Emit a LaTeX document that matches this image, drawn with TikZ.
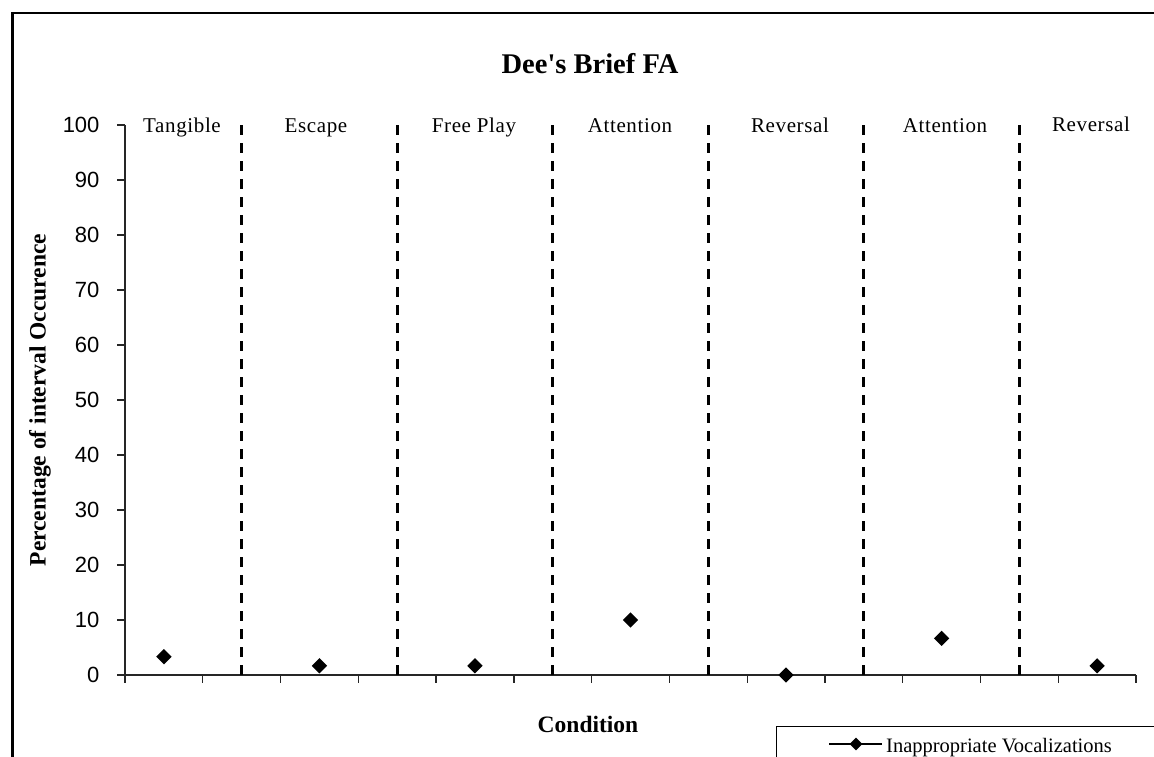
\documentclass[tikz,border=0pt]{standalone}
\usepackage{fontspec}
\setmainfont{Liberation Serif}
\newfontfamily\arialf{Liberation Sans}
\usetikzlibrary{shapes.geometric}
\tikzset{
  axisline/.style={line width=1.3pt, black!85},
  phaseline/.style={line width=3pt, dash pattern=on 10pt off 8pt},
  datapt/.style={diamond, fill=black, inner sep=0pt, minimum width=15.5pt, minimum height=15.5pt},
  ylab/.style={anchor=east, font=\arialf\fontsize{22}{24}\selectfont},
  catlab/.style={anchor=base, font=\addfontfeature{LetterSpace=3}\fontsize{21}{24}\selectfont},
}
\begin{document}
\begin{tikzpicture}[x=1pt,y=-1pt]
\useasboundingbox (0,0) rectangle (1154,756);
\clip (0,0) rectangle (1154,756);
\fill[white] (0,0) rectangle (1154,756);
% outer frame (cropped)
\draw[line width=2.6pt] (12.5,770) -- (12.5,13) -- (1170,13);
% title
\node[anchor=base, font=\bfseries\fontsize{28.5}{32}\selectfont] (title) at (590,73) {Dee\textquotesingle s Brief FA};
% axes
\coordinate (o) at (125,675);
\coordinate (ytop) at (125,125);
\coordinate (xend) at (1136,675);
\draw[axisline] (ytop) -- (o) -- (xend);
% y ticks and labels
\foreach \v in {0,10,...,100} {
  \draw[axisline] (117,{675-5.5*\v}) -- (125,{675-5.5*\v});
  \node[ylab] (yl\v) at (103,{675-5.5*\v}) {\v};
}
% x ticks
\foreach \k in {0,...,13} {
  \draw[axisline] ({125+77.77*\k},675) -- ({125+77.77*\k},683);
}
% phase change lines
\foreach \k in {1,...,6} {
  \coordinate (pt\k) at ({125+77.77*(2*\k-0.5)},125);
  \coordinate (pb\k) at ({125+77.77*(2*\k-0.5)},675);
  \draw[phaseline] (pt\k) -- (pb\k);
}
% condition labels
\node[catlab] (c1) at (182,132) {Tangible};
\node[catlab] (c2) at (316,132) {Escape};
\node[catlab] (c3) at (474,132) {Free Play};
\node[catlab] (c4) at (630,132) {Attention};
\node[catlab] (c5) at (790,132) {Reversal};
\node[catlab] (c6) at (945,132) {Attention};
\node[catlab] (c7) at (1091,131) {Reversal};
% data points
\node[datapt] (d1) at ({125+77.77*0.5},{675-5.5*3.33}) {};
\node[datapt] (d2) at ({125+77.77*2.5},{675-5.5*1.67}) {};
\node[datapt] (d3) at ({125+77.77*4.5},{675-5.5*1.67}) {};
\node[datapt] (d4) at ({125+77.77*6.5},{675-5.5*10}) {};
\node[datapt] (d5) at ({125+77.77*8.5},{675-5.5*0}) {};
\node[datapt] (d6) at ({125+77.77*10.5},{675-5.5*6.67}) {};
\node[datapt] (d7) at ({125+77.77*12.5},{675-5.5*1.67}) {};
% axis titles
\node[rotate=90, font=\bfseries\fontsize{23.5}{26}\selectfont] (ytitle) at (40,400) {Percentage of interval Occurence};
\node[anchor=base, font=\bfseries\fontsize{23.5}{26}\selectfont] (xtitle) at (588,732) {Condition};
% legend
\draw[line width=1pt] (776,770) -- (776,726) -- (1170,726);
\coordinate (la) at (829,744);
\coordinate (lb) at (882,744);
\draw[line width=2pt] (la) -- (lb);
\node[datapt, minimum width=13pt, minimum height=13pt] (lm) at (856,744) {};
\node[anchor=base west, inner sep=0pt, font=\fontsize{20.5}{23}\selectfont] (ltext) at (886,752) {Inappropriate Vocalizations};
\end{tikzpicture}
\end{document}
